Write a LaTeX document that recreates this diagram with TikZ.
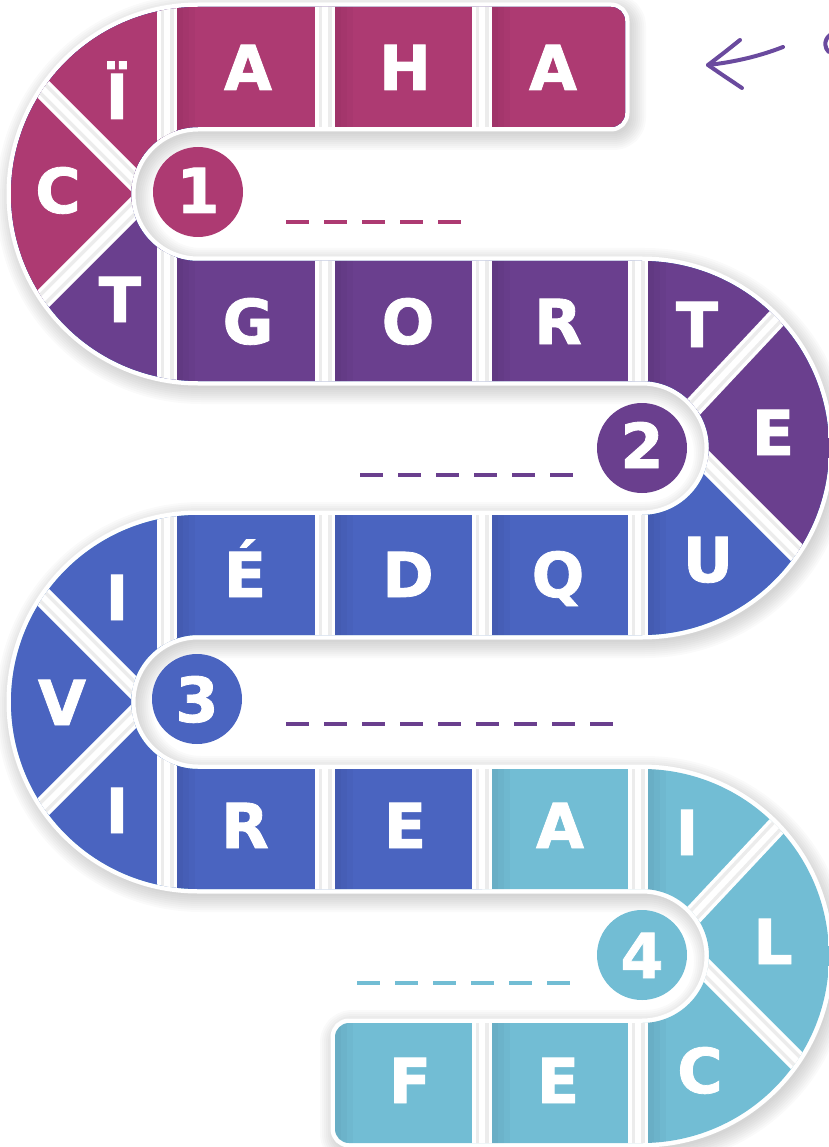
\documentclass[tikz,border=0pt]{standalone}
\usepackage{fontspec}
\newfontfamily\lett{DejaVu Sans}[FakeBold=1.3]
\definecolor{cmag}{HTML}{AD3A72}
\definecolor{cpur}{HTML}{6A3F8E}
\definecolor{cblu}{HTML}{4A64C0}
\definecolor{clbl}{HTML}{72BDD4}
\definecolor{carrow}{HTML}{6A4A9E}
\tikzset{
  lt/.style={text=white, font=\lett\bfseries\fontsize{62}{62}\selectfont, anchor=base, inner sep=0pt},
  numdisc/.style={circle, minimum size=90pt, inner sep=0pt},
  dashline/.style={line width=4pt, dash pattern=on 23pt off 15pt},
  divw/.style={white, line width=20pt},
  divg/.style={gray!15, line width=13pt},
  divc/.style={white, line width=6pt},
  arrowstroke/.style={carrow, line width=4pt, line cap=round, line join=round}
}
\newcommand\band{(611,7) -- (198,7) arc[start angle=270,end angle=90,radius=187]
 -- (642,381) arc[start angle=270,end angle=450,radius=67]
 -- (198,515) arc[start angle=270,end angle=90,radius=187]
 -- (642,889) arc[start angle=270,end angle=450,radius=67]
 -- (349,1023) arc[start angle=270,end angle=180,radius=14]
 -- (335,1129) arc[start angle=180,end angle=90,radius=14]
 -- (642,1143) arc[start angle=90,end angle=-90,radius=187]
 -- (198,769) arc[start angle=90,end angle=270,radius=67]
 -- (642,635) arc[start angle=90,end angle=-90,radius=187]
 -- (198,261) arc[start angle=90,end angle=270,radius=67]
 -- (611,127) arc[start angle=90,end angle=0,radius=14]
 -- (625,21) arc[start angle=0,end angle=-90,radius=14] -- cycle}
\newcommand\divider[2]{%
  \draw[divw] #1 -- #2;
  \draw[divg] #1 -- #2;
  \draw[divc] #1 -- #2;}
\begin{document}
\begin{tikzpicture}[x=1pt,y=-1pt]
\useasboundingbox (0,0) rectangle (828,1147);
% soft shadow
\foreach \w in {4,8,...,36}{
  \draw[black, opacity=0.018, line width=\w pt, line join=round, shift={(3,5)}] \band;
}
% white border
\draw[white, line width=9pt, line join=round] \band;
\fill[white] \band;
\begin{scope}
  \clip \band;
  \fill[clbl] (-20,-20) rectangle (850,1170);
  \fill[cblu] (-20,-20) -- (850,-20) -- (850,702) -- (482,702) -- (482,900) -- (-20,900) -- cycle;
  \fill[cpur] (-20,-20) -- (850,-20) -- (850,606) -- (692,448) -- (-20,448) -- cycle;
  \fill[cmag] (-20,-20) -- (850,-20) -- (850,194) -- (148,194) -- (-20,362) -- cycle;
  % subtle darkening at left edge of each cell
  \foreach \x in {167,325,482,638}{
    \foreach \w in {6,12,18}{
      \fill[black, opacity=0.025] (\x+10,-20) rectangle (\x+10+\w,1170);
    }
  }
  % straight dividers
  \foreach \x in {167,325,482,638}{
    \divider{(\x,-20)}{(\x,1170)}
  }
  % diagonal dividers
  \foreach \cy in {194,702}{
    \divider{(148,\cy)}{(-152,\cy-300)}
    \divider{(148,\cy)}{(-152,\cy+300)}
  }
  \foreach \cy in {448,956}{
    \divider{(655,\cy)}{(955,\cy-320)}
    \divider{(692,\cy)}{(992,\cy+300)}
  }
\end{scope}
% number discs
\node[numdisc, fill=cmag] (n1) at (198,192) {};
\node[numdisc, fill=cpur] (n2) at (642,448) {};
\node[numdisc, fill=cblu] (n3) at (197,699) {};
\node[numdisc, fill=clbl] (n4) at (642,955) {};
\node[lt] (d1) at (198,213) {1};
\node[lt] (d2) at (642,468) {2};
\node[lt] (d3) at (197,722) {3};
\node[lt] (d4) at (642,978) {4};
% dashed answer lines
\coordinate (a1) at (286,222);
\coordinate (b1) at (462,222);
\coordinate (a2) at (360,475);
\coordinate (b2) at (574,475);
\coordinate (a3) at (286,724);
\coordinate (b3) at (614,724);
\coordinate (a4) at (357,983);
\coordinate (b4) at (571,983);
\draw[dashline, cmag] (a1) -- (b1);
\draw[dashline, cpur] (a2) -- (b2);
\draw[dashline, cpur] (a3) -- (b3);
\draw[dashline, clbl] (a4) -- (b4);
% letters row 1 and curve 1
\node[lt] (l01) at (117,119) {Ï};
\node[lt] (l02) at (248,90) {A};
\node[lt] (l03) at (405,90) {H};
\node[lt] (l04) at (553,90) {A};
\node[lt] (l05) at (58,213) {C};
\node[lt] (l06) at (120,322) {T};
% row 2
\node[lt] (l07) at (248,344) {G};
\node[lt] (l08) at (408,344) {O};
\node[lt] (l09) at (558,344) {R};
\node[lt] (l10) at (697,347) {T};
\node[lt] (l11) at (773,455) {E};
\node[lt] (l12) at (708,582) {U};
% row 3
\node[lt] (l13) at (245,597) {É};
\node[lt] (l14) at (408,597) {D};
\node[lt] (l15) at (558,597) {Q};
\node[lt] (l16) at (117,620) {I};
\node[lt] (l17) at (62,725) {V};
\node[lt] (l18) at (117,833) {I};
% row 4
\node[lt] (l19) at (245,848) {R};
\node[lt] (l20) at (405,848) {E};
\node[lt] (l21) at (560,848) {A};
\node[lt] (l22) at (687,855) {I};
\node[lt] (l23) at (773,964) {L};
\node[lt] (l24) at (700,1093) {C};
% row 5
\node[lt] (l25) at (410,1103) {F};
\node[lt] (l26) at (558,1103) {E};
% arrow
\coordinate (t0) at (783,47);
\coordinate (tip) at (708,65);
\coordinate (h1) at (740,40);
\coordinate (h2) at (742,88);
\draw[arrowstroke] (t0) .. controls (760,56) and (735,62) .. (tip);
\draw[arrowstroke] (h1) .. controls (725,52) .. (tip) .. controls (724,76) .. (h2);
\draw[arrowstroke] (830,35) arc[start angle=235,end angle=135,radius=11];
\end{tikzpicture}
\end{document}
